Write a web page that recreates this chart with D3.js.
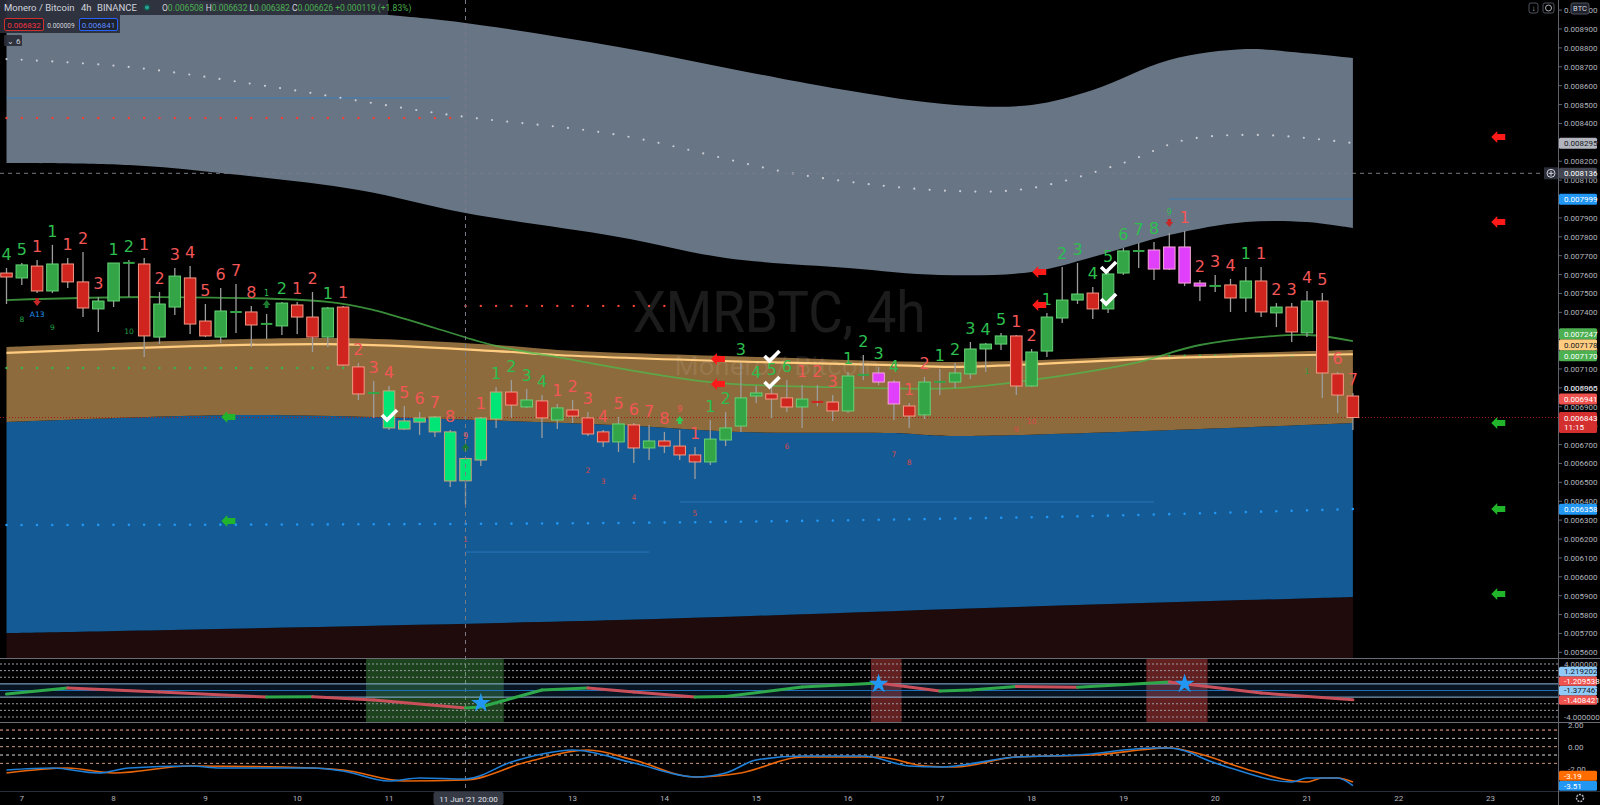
<!DOCTYPE html>
<html>
<head>
<meta charset="utf-8">
<script src="https://cdnjs.cloudflare.com/ajax/libs/d3/7.8.5/d3.min.js"></script>
<style>
  html, body { margin: 0; background: #000; overflow: hidden; }
  svg { display: block; }
</style>
</head>
<body>
<svg id="chart" width="1600" height="805"></svg>
<script>
// XMRBTC 4h candles, first bar = 6 Jun 2021 20:00 UTC, values in µBTC (1e-6)
const opens  = [7608,7582,7645,7513,7656,7561,7418,7460,7661,7656, 7269,7428,7582,7354,7269,7402,7402,7338,7328,7439,
                7375,7269,7428,7111,6973,6984,6782,6819,6846,6767, 6508,6618,6835,6978,6899,6931,6830,6883,6841,6767,
                6714,6804,6682,6719,6692,6645,6608,6724,6798,6957, 6968,6947,6899,6931,6925,6878,7068,7079,7031,6904,
                6857,7031,7031,7074,7206,7232,7275,7010,7195,7370, 7465,7502,7418,7608,7725,7730,7629,7746,7555,7539,
                7545,7476,7566,7397,7428,7291,7460,7074,6957];
const highs  = [7635,7661,7677,7757,7688,7719,7481,7661,7677,7688, 7508,7635,7645,7444,7529,7550,7434,7391,7455,7455,
                7508,7428,7434,7132,7037,7010,6904,6872,6851,6777, 6632,6846,7005,7042,6994,6962,6915,6936,6872,6777,
                6846,6814,6804,6767,6777,6687,6830,6872,7132,7010, 7026,7042,7015,7015,6962,7084,7174,7111,7042,6920,
                7058,7100,7132,7243,7238,7291,7280,7206,7397,7640, 7661,7534,7624,7741,7767,7772,7820,7831,7571,7598,
                7577,7640,7640,7449,7449,7513,7502,7084,6973];
const lows   = [7444,7545,7502,7502,7529,7375,7296,7428,7481,7164, 7232,7386,7285,7269,7238,7291,7217,7259,7280,7285,
                7190,7217,7116,6936,6841,6777,6777,6751,6740,6475, 6382,6587,6788,6841,6894,6735,6782,6814,6745,6687,
                6661,6602,6618,6655,6618,6518,6592,6692,6767,6920, 6841,6872,6788,6904,6825,6867,7042,7015,6830,6788,
                6835,6962,6999,7047,7084,7201,6962,7005,7164,7344, 7444,7365,7397,7598,7635,7571,7624,7539,7460,7508,
                7402,7402,7375,7322,7243,7269,6947,6867,6777];
const closes = [7587,7651,7513,7656,7561,7423,7460,7661,7667,7275, 7444,7592,7338,7275,7407,7407,7333,7344,7449,7375,
                7269,7423,7121,6968,6978,6788,6825,6841,6767,6507, 6626,6841,6978,6909,6936,6841,6894,6851,6756,6714,
                6809,6682,6719,6692,6645,6608,6729,6788,6947,6973, 6941,6899,6941,6931,6878,7063,7074,7031,6915,6851,
                7031,7037,7079,7206,7232,7275,7010,7190,7375,7465, 7497,7418,7603,7725,7730,7629,7746,7555,7539,7545,
                7476,7566,7402,7428,7296,7460,7079,6962,6843];
// candle colour per bar: r red, g green, G lime, m magenta
const candleKind = "rgrgrrgggr" + "ggrrggrggr" + "rgrrgGGGGG" + "GGGrgrgrrr" + "grgrrrgggg" +
                   "rrgrrggmmr" + "ggggggrggg" + "grgggmmmmg" + "rgrgrgrrr";

// sequential counts above the bars and their side (g buy / r sell)
const tdCounts = ["4","5","1","1","1","2","3","1","2","1", "2","3","4","5","6","7","8","1","2","1",
                  "2","1","1","2","3","4","5","6","7","8", "9","1","1","2","3","4","1","2","3","4",
                  "5","6","7","8","9","1","1","2","3","4", "5","6","1","2","3","1","2","3","4","1",
                  "2","1","2","3","4","5","1","2","1","2", "3","4","5","6","7","8","9","1","2","3",
                  "4","1","1","2","3","4","5","6","7"];
const tdSide = "ggrgrrrggr" + "rrrrrrrggr" + "rgrrrrrrrr" + "rrggggrrrr" + "rrrrrrgggg" +
               "ggrrrggggr" + "rgggggrrgg" + "gggggggrrr" + "rgrrrrrrr";
const tdSmall = [17, 30, 44, 76];
// countdown numbers under the bars
const cdBars  = [1, 3, 8, 30, 38, 39, 41, 45, 51, 58, 59, 66, 67, 85];
const cdText  = ["8","9","10","1","2","3","4","5","6","7","8","9","10","1"];
const cdSide  = "gggrrrrrrrrrrg";
const upMarks = [17, 30, 44];
const downMarks = [76];
const downMarksBelow = [2];

// bands and averages, [bar index] -> value
const grayTopBars = [0, 12, 25, 30, 40, 54, 62, 67, 71, 76, 81, 84, 88];
const grayTopVals = [9150, 9053, 8974, 8932, 8805, 8588, 8498, 8498, 8577, 8736, 8794, 8778, 8746];
const grayBotBars = [0, 8, 14, 23, 30, 40, 47, 55, 61, 67, 71, 76, 81, 85, 88];
const grayBotVals = [8191, 8180, 8138, 8048, 7926, 7799, 7688, 7635, 7598, 7614, 7693, 7809, 7878, 7878, 7846];
const midBars = [0, 8, 17, 29, 40, 52, 62, 67, 73, 77, 82, 88];
const midVals = [8741, 8699, 8598, 8445, 8339, 8127, 8042, 8058, 8191, 8312, 8339, 8296];
const brownTopBars = [0, 21, 32, 36, 49, 62, 76, 88];
const brownTopVals = [7216, 7264, 7227, 7201, 7164, 7137, 7174, 7200];
const creamBars = [0, 21, 32, 36, 49, 58, 62, 76, 88];
const creamVals = [7185, 7232, 7195, 7174, 7137, 7121, 7111, 7158, 7178];
const blueTopBars = [0, 15, 24, 29, 40, 48, 58, 62, 88];
const blueTopVals = [6819, 6856, 6846, 6835, 6803, 6766, 6761, 6745, 6814];
const blueBotBars = [0, 40, 66, 88];
const blueBotVals = [5702, 5771, 5840, 5893];
const maBars = [0, 10, 21, 24, 28, 32, 36, 46, 54, 62, 67, 74, 78, 85, 88];
const maVals = [7465, 7481, 7455, 7412, 7317, 7222, 7163, 7031, 7004, 6999, 7042, 7137, 7227, 7280, 7247];
const blueDotBars = [0, 40, 70, 88];
const blueDotVals = [6274, 6285, 6320, 6359];

// horizontal levels [from bar, to bar, value]
const redDots = [[0, 29, 8429], [30, 43, 7434]];
const greenDots = [[0, 22, 7105], [76, 85, 7170]];
const blueLevels = [[0, 29, 8535], [76, 88, 8000], [30, 42, 6131], [44, 75, 6396]];
const lastPrice = 6843;
const crossBar = 30, crossPrice = 8136;

// signal markers [bar, value]
const checks = [[25, 6851], [50, 7164], [50, 7026], [72, 7635], [72, 7465]];
const redArrows = [[46.5, 7153], [46.5, 7021], [67.5, 7614], [67.5, 7439], [97.5, 8328], [97.5, 7878]];
const greenArrows = [[14.5, 6846], [14.5, 6295], [97.5, 6814], [97.5, 6359], [97.5, 5909]];

// oscillator pane
const oscBars = [0, 4, 10, 17, 20, 24, 30, 31, 35, 38, 41, 45, 47, 52, 57, 61, 63, 66, 70, 76, 82, 88];
const oscVals = [-0.53, 0.38, -0.23, -0.98, -0.93, -1.43, -2.64, -2.49, 0.08, 0.38, -0.23, -0.98, -0.9, 0.53, 1.13, -0.08, 0.08, 0.6, 0.5, 1.3, -0.38, -1.41];
const oscStars = [[31, -1.9], [57, 1.0], [77, 1.0]];
const shadeGreen = [[24, 32]];
const shadeRed = [[57, 58], [75, 78]];
const oscTags = [1.219202, -1.209538, -1.377467, -1.408421];

// momentum pane
const momBlueBars = [0, 3, 6, 8, 12, 14, 20, 22, 25, 27, 30, 33, 35, 37, 41, 45, 47, 49, 52, 56, 59, 61, 66, 70, 75, 76, 79, 80, 84, 85, 87, 88];
const momBlueVals = [-2.1, -1.92, -2.37, -1.92, -1.74, -1.92, -1.92, -2.19, -3.09, -2.82, -2.91, -1.38, -0.66, -0.3, -1.47, -2.73, -2.37, -1.2, -0.84, -0.84, -1.74, -1.83, -0.93, -0.75, -0.12, -0.12, -1.47, -1.92, -3.18, -2.82, -2.82, -3.51];
const momOrangeBars = [0, 4, 7, 12, 20, 22, 26, 30, 34, 38, 41, 45, 48, 52, 57, 60, 62, 66, 71, 76, 78, 81, 85, 86, 87, 88];
const momOrangeVals = [-2.37, -1.92, -2.37, -1.74, -1.92, -2.1, -3.09, -3.0, -1.38, -0.3, -1.2, -2.73, -2.37, -0.93, -0.93, -1.74, -1.83, -0.93, -0.75, -0.12, -0.66, -2.0, -3.18, -2.82, -2.82, -3.19];
const momLevels = [1.5, 0.75, 0, -0.75, -1.5];

// right scale tags
const priceTags = [8295, 8136, 7999, 7247, 7178, 7170, 6965, 6941, 6843, 6358];

// ---------------------------------------------------------------
const W = 1600, H = 805, plotR = 1558, mainB = 658, oscB = 722, momB = 791;
const t0 = Date.UTC(2021, 5, 6, 20);
const barTime = i => new Date(t0 + i * 4 * 3600e3);

const x = d3.scaleUtc().domain([barTime(0), barTime(88)]).range([6.5, 1352.9]);
const y = d3.scaleLinear().domain([5570, 9053.5]).range([mainB, 0]);
const yOsc = d3.scaleLinear().domain([-4, 4]).range([717, 664]);
const yMom = d3.scaleLinear().domain([-2, 2]).range([768.9, 724.5]);
const bx = b => x(barTime(b));

const FONT = "Roboto, 'Liberation Sans', sans-serif";
const svg = d3.select('#chart');
svg.append('rect').attr('width', W).attr('height', H).attr('fill', '#000');

const defs = svg.append('defs');
defs.append('clipPath').attr('id', 'clipMain').append('rect').attr('width', plotR).attr('height', mainB);
defs.append('clipPath').attr('id', 'clipOsc').append('rect').attr('y', mainB).attr('width', plotR).attr('height', oscB - mainB);
defs.append('clipPath').attr('id', 'clipMom').append('rect').attr('y', oscB).attr('width', plotR).attr('height', momB - oscB);

const pts = (bars, vals, sy) => bars.map((b, i) => [bx(b), (sy || y)(vals[i])]);
const smooth = d3.line().curve(d3.curveCatmullRom.alpha(0.5));
function band(topPts, botPts) {
    return smooth(topPts) + 'L' + smooth(botPts.slice().reverse()).slice(1) + 'Z';
}

// ---------------- main pane ----------------
const main = svg.append('g').attr('clip-path', 'url(#clipMain)');
const floorPts = [[bx(0), mainB], [bx(88), mainB]];

main.append('path').attr('d', band(pts(blueBotBars, blueBotVals), floorPts)).attr('fill', '#200b0c');
main.append('path').attr('d', band(pts(blueTopBars, blueTopVals), pts(blueBotBars, blueBotVals))).attr('fill', '#145a94');
main.append('path').attr('d', band(pts(brownTopBars, brownTopVals), pts(blueTopBars, blueTopVals))).attr('fill', '#8e6b3c');
main.append('path').attr('d', band(pts(grayTopBars, grayTopVals), pts(grayBotBars, grayBotVals))).attr('fill', '#687585');

// watermark
main.append('text').attr('x', 779).attr('y', 332).attr('text-anchor', 'middle')
    .attr('font-family', FONT).attr('font-size', 58).attr('textLength', 293).attr('lengthAdjust', 'spacingAndGlyphs')
    .attr('fill', 'rgba(255,255,255,0.11)').text('XMRBTC, 4h');
main.append('text').attr('x', 777).attr('y', 375).attr('text-anchor', 'middle')
    .attr('font-family', FONT).attr('font-size', 25).attr('textLength', 205).attr('lengthAdjust', 'spacingAndGlyphs')
    .attr('fill', 'rgba(255,255,255,0.09)').text('Monero / Bitcoin');

// thin level lines
blueLevels.forEach(l => {
    main.append('line').attr('x1', bx(l[0])).attr('x2', bx(l[1])).attr('y1', y(l[2])).attr('y2', y(l[2]))
        .attr('stroke', '#2f7fc8').attr('stroke-width', 1).attr('opacity', 0.8);
});

// dotted lines
function dotted(p, color, w) {
    main.append('path').attr('d', d3.line()(p)).attr('fill', 'none').attr('stroke', color)
        .attr('stroke-width', w || 2.4).attr('stroke-linecap', 'round').attr('stroke-dasharray', '0 15.3');
}
redDots.forEach(l => dotted([[bx(l[0]), y(l[2])], [bx(l[1]), y(l[2])]], '#f44336'));
greenDots.forEach(l => dotted([[bx(l[0]), y(l[2])], [bx(l[1]), y(l[2])]], '#3bb54a'));
main.append('path').attr('d', smooth(pts(blueDotBars, blueDotVals))).attr('fill', 'none').attr('stroke', '#2196f3')
    .attr('stroke-width', 2.6).attr('stroke-linecap', 'round').attr('stroke-dasharray', '0 15.3');
main.append('path').attr('d', smooth(pts(midBars, midVals))).attr('fill', 'none').attr('stroke', '#c9cdd4')
    .attr('stroke-width', 2.2).attr('stroke-linecap', 'round').attr('stroke-dasharray', '0 15.3');

// current price line
main.append('line').attr('x1', 0).attr('x2', plotR).attr('y1', y(lastPrice)).attr('y2', y(lastPrice))
    .attr('stroke', '#a01c1c').attr('stroke-width', 1).attr('stroke-dasharray', '1 2');

// averages
main.append('path').attr('d', smooth(pts(creamBars, creamVals))).attr('fill', 'none')
    .attr('stroke', '#ffcc80').attr('stroke-width', 2.2);
main.append('path').attr('d', smooth(pts(maBars, maVals))).attr('fill', 'none')
    .attr('stroke', '#4cbb4c').attr('stroke-width', 1.8).attr('opacity', 0.75);

// crosshair
svg.append('line').attr('x1', bx(crossBar)).attr('x2', bx(crossBar)).attr('y1', 0).attr('y2', momB)
    .attr('stroke', '#787b86').attr('stroke-dasharray', '4 4').attr('stroke-width', 1);
main.append('line').attr('x1', 0).attr('x2', plotR).attr('y1', y(crossPrice)).attr('y2', y(crossPrice))
    .attr('stroke', '#787b86').attr('stroke-dasharray', '4 4').attr('stroke-width', 1);

// candles
const kindFill = { r: '#d0241e', g: '#34a547', G: '#00e676', m: '#e040fb' };
const kindEdge = { r: '#f29a86', g: '#66d275', G: '#c9a27a', m: '#f5a6d6' };
const bw = 11.5;
const candles = main.append('g');
opens.forEach((o, i) => {
    const cx = bx(i);
    const c = closes[i];
    candles.append('line').attr('x1', cx).attr('x2', cx).attr('y1', y(highs[i])).attr('y2', y(lows[i]))
        .attr('stroke', '#9d9d9d').attr('stroke-width', 1.3);
    const top = y(Math.max(o, c)), bot = y(Math.min(o, c));
    const h = Math.max(bot - top, 2);
    const k = candleKind[i];
    candles.append('rect').attr('x', cx - bw / 2).attr('y', top).attr('width', bw).attr('height', h)
        .attr('fill', kindFill[k]).attr('stroke', kindEdge[k]).attr('stroke-width', h > 3 ? 1 : 0);
});

// sequential counts
const tdColor = { g: '#2dbf4e', r: '#f25656' };
const tdG = main.append('g').attr('font-family', "'DejaVu Sans', sans-serif").attr('text-anchor', 'middle');
tdCounts.forEach((t, i) => {
    if (!t) return;
    const small = tdSmall.includes(i);
    tdG.append('text').attr('x', bx(i)).attr('y', y(highs[i]) - (small ? 18 : 8))
        .attr('font-size', small ? 8 : 16).attr('fill', tdColor[tdSide[i]]).text(t);
});
cdBars.forEach((b, i) => {
    tdG.append('text').attr('x', bx(b)).attr('y', y(lows[b]) + 37).attr('font-size', 7.5)
        .attr('fill', cdSide[i] === 'g' ? '#23a046' : '#d8484c').text(cdText[i]);
});
tdG.append('text').attr('x', bx(2)).attr('y', y(lows[2]) + 24).attr('font-size', 7.5)
    .attr('fill', '#2196f3').text('A13');

// small up / down markers
function smallArrow(cx, cy, dir, color) {
    const s = dir === 'up' ? -1 : 1;
    const p = [[cx - 4, cy - 1 * s], [cx, cy + 4 * s], [cx + 4, cy - 1 * s], [cx + 1.8, cy - 1 * s],
               [cx + 1.8, cy - 4 * s], [cx - 1.8, cy - 4 * s], [cx - 1.8, cy - 1 * s]];
    main.append('path').attr('d', d3.line()(p) + 'Z').attr('fill', color);
}
upMarks.forEach(b => smallArrow(bx(b), y(highs[b]) - 10, 'up', b === 44 ? '#2ecc55' : '#1b7a2e'));
downMarks.forEach(b => smallArrow(bx(b), y(highs[b]) - 10, 'down', '#c62828'));
downMarksBelow.forEach(b => smallArrow(bx(b), y(lows[b]) + 9, 'down', '#c62828'));

// check marks
checks.forEach(c => {
    const cx = bx(c[0]), cy = y(c[1]);
    main.append('path').attr('d', `M${cx - 7},${cy - 1}L${cx - 2},${cy + 4}L${cx + 8},${cy - 6}`)
        .attr('fill', 'none').attr('stroke', '#fff').attr('stroke-width', 3.6);
});

// big left-pointing arrows
function bigArrow(cx, cy, color) {
    const p = [[cx - 7, cy], [cx - 1, cy - 6], [cx - 1, cy - 3], [cx + 7, cy - 3],
               [cx + 7, cy + 3], [cx - 1, cy + 3], [cx - 1, cy + 6]];
    svg.append('path').attr('d', d3.line()(p) + 'Z').attr('fill', color);
}
redArrows.forEach(a => bigArrow(bx(a[0]), y(a[1]), '#ff1a1a'));
greenArrows.forEach(a => bigArrow(bx(a[0]), y(a[1]), '#20b52a'));

// ---------------- oscillator pane ----------------
const osc = svg.append('g').attr('clip-path', 'url(#clipOsc)');
shadeGreen.forEach(s => osc.append('rect').attr('x', bx(s[0] - 0.5)).attr('width', bx(s[1] + 0.5) - bx(s[0] - 0.5))
    .attr('y', mainB).attr('height', oscB - mainB).attr('fill', 'rgba(76,175,80,0.38)'));
shadeRed.forEach(s => osc.append('rect').attr('x', bx(s[0] - 0.5)).attr('width', bx(s[1] + 0.5) - bx(s[0] - 0.5))
    .attr('y', mainB).attr('height', oscB - mainB).attr('fill', 'rgba(220,70,70,0.45)'));
osc.append('rect').attr('x', 0).attr('width', plotR).attr('y', yOsc(1)).attr('height', yOsc(-1) - yOsc(1))
    .attr('fill', 'rgba(30,80,130,0.25)');
[4, 3, 2, -2, -3, -4].forEach(v => osc.append('line').attr('x1', 0).attr('x2', plotR)
    .attr('y1', yOsc(v)).attr('y2', yOsc(v)).attr('stroke', '#9a9ca3').attr('stroke-dasharray', '2 2'));
[1, -1].forEach(v => osc.append('line').attr('x1', 0).attr('x2', plotR)
    .attr('y1', yOsc(v)).attr('y2', yOsc(v)).attr('stroke', '#8fb8dc').attr('stroke-width', 1));
osc.append('line').attr('x1', 0).attr('x2', plotR).attr('y1', yOsc(0)).attr('y2', yOsc(0))
    .attr('stroke', '#1e6fb5').attr('stroke-width', 1);
for (let i = 1; i < oscBars.length; i++) {
    const up = oscVals[i] >= oscVals[i - 1];
    osc.append('line').attr('x1', bx(oscBars[i - 1])).attr('y1', yOsc(oscVals[i - 1]))
        .attr('x2', bx(oscBars[i])).attr('y2', yOsc(oscVals[i]))
        .attr('stroke', up ? '#2ea84a' : '#c9505a').attr('stroke-width', 3).attr('stroke-linecap', 'round');
}
oscStars.forEach(s => osc.append('path').attr('d', d3.symbol(d3.symbolStar).size(120)())
    .attr('transform', `translate(${bx(s[0])},${yOsc(s[1])})`).attr('fill', '#2196f3'));

// ---------------- momentum pane ----------------
const mom = svg.append('g').attr('clip-path', 'url(#clipMom)');
const momLevelColor = ['#ffb09a', '#c8c8c8', '#c99a80', '#dedede', '#c99a80'];
momLevels.forEach((v, i) => mom.append('line').attr('x1', 0).attr('x2', plotR)
    .attr('y1', yMom(v)).attr('y2', yMom(v)).attr('stroke', momLevelColor[i]).attr('stroke-dasharray', '3 3'));
const momLine = d3.line().curve(d3.curveMonotoneX);
mom.append('path').attr('d', momLine(pts(momOrangeBars, momOrangeVals, yMom))).attr('fill', 'none')
    .attr('stroke', '#e8650a').attr('stroke-width', 1.6);
mom.append('path').attr('d', momLine(pts(momBlueBars, momBlueVals, yMom))).attr('fill', 'none')
    .attr('stroke', '#1e7fd8').attr('stroke-width', 1.6);

// ---------------- dividers and axes ----------------
[mainB, oscB].forEach(v => svg.append('line').attr('x1', 0).attr('x2', W).attr('y1', v + 0.5).attr('y2', v + 0.5)
    .attr('stroke', '#6a6d76').attr('stroke-width', 1));
svg.append('line').attr('x1', 0).attr('x2', W).attr('y1', momB + 0.5).attr('y2', momB + 0.5).attr('stroke', '#2a2e39');
svg.append('line').attr('x1', plotR + 0.5).attr('x2', plotR + 0.5).attr('y1', 0).attr('y2', H)
    .attr('stroke', '#60636d').attr('stroke-width', 1);

const axisG = svg.append('g').attr('font-family', FONT).attr('font-size', 8).attr('fill', '#b2b5be');
d3.range(5600, 9001, 100).forEach(v => {
    const yy = y(v);
    if (yy < 4 || yy > mainB - 2) return;
    axisG.append('line').attr('x1', plotR).attr('x2', plotR + 4).attr('y1', yy).attr('y2', yy).attr('stroke', '#60636d');
    axisG.append('text').attr('x', plotR + 6).attr('y', yy + 3).text((v / 1e6).toFixed(6));
});
[[4, '4.000000'], [-4, '-4.000000']].forEach(d => {
    axisG.append('text').attr('x', plotR + 6).attr('y', yOsc(d[0]) + 3).text(d[1]);
});
[[2, '2.00'], [0, '0.00'], [-2, '-2.00']].forEach(d => {
    axisG.append('text').attr('x', plotR + 10).attr('y', yMom(d[0]) + 3).text(d[1]);
});

// time axis
const timeG = svg.append('g').attr('font-family', FONT).attr('font-size', 8).attr('fill', '#b2b5be').attr('text-anchor', 'middle');
d3.utcDay.range(new Date(Date.UTC(2021, 5, 7)), new Date(Date.UTC(2021, 5, 24))).forEach(d => {
    timeG.append('text').attr('x', x(d)).attr('y', 801).text(d3.utcFormat('%-d')(d));
});
timeG.append('rect').attr('x', bx(crossBar) - 32).attr('y', 792).attr('width', 70).attr('height', 13)
    .attr('fill', '#363a45').attr('rx', 2);
timeG.append('text').attr('x', bx(crossBar) + 3).attr('y', 801.5).attr('fill', '#e0e3eb').attr('font-size', 8)
    .text("11 Jun '21   20:00");

// tags on the right scale, pushed upward when they collide
function placeTags(tags) {
    tags.sort((a, b) => b.cy - a.cy);
    tags.forEach((t, i) => {
        t.top = t.cy - t.h0;
        if (i > 0) {
            const prev = tags[i - 1];
            if (t.top + t.h > prev.top) t.top = prev.top - t.h;
        }
    });
    tags.forEach(t => {
        if (t.fill) axisG.append('rect').attr('x', plotR + 1).attr('y', t.top).attr('width', 38).attr('height', t.h)
            .attr('fill', t.fill).attr('rx', 1.5);
        axisG.append('text').attr('x', plotR + 6).attr('y', t.top + t.h0 + 3).attr('fill', t.ink).text(t.label);
        if (t.sub) axisG.append('text').attr('x', plotR + 6).attr('y', t.top + t.h0 + 12).attr('fill', t.ink).text(t.sub);
    });
}
const tagFill = ['#b2b5be', '#434651', '#2196f3', '#4caf50', '#ffcc80', '#4caf50', null, '#ef5350', '#d32f2f', '#2196f3'];
const tagInk = ['#131722', '#fff', '#fff', '#fff', '#131722', '#fff', '#d1d4dc', '#fff', '#fff', '#fff'];
placeTags(priceTags.map((v, i) => ({
    cy: y(v), h0: 5.5, h: v === lastPrice ? 21 : 11, fill: tagFill[i], ink: tagInk[i],
    label: (v / 1e6).toFixed(6), sub: v === lastPrice ? '11:15' : null
})));
const oscFill = ['#90caf9', '#ef5350', '#90caf9', '#ef5350'];
const oscInk = ['#131722', '#fff', '#131722', '#fff'];
placeTags(oscTags.map((v, i) => ({ cy: yOsc(v), h0: 4.7, h: 9.5, fill: oscFill[i], ink: oscInk[i], label: v.toFixed(6) })));
const momEnds = [momOrangeVals[momOrangeVals.length - 1], momBlueVals[momBlueVals.length - 1]];
placeTags(momEnds.map((v, i) => ({ cy: yMom(v), h0: 5, h: 10, fill: i ? '#2196f3' : '#ff6d00', ink: '#fff', label: v.toFixed(2) })));

// crosshair button on the scale
svg.append('rect').attr('x', plotR - 14).attr('y', y(crossPrice) - 6).attr('width', 14).attr('height', 12)
    .attr('fill', '#2a2e39');
svg.append('circle').attr('cx', plotR - 7).attr('cy', y(crossPrice)).attr('r', 4)
    .attr('fill', 'none').attr('stroke', '#d1d4dc').attr('stroke-width', 1);
svg.append('path').attr('d', `M${plotR - 9.5},${y(crossPrice)}h5M${plotR - 7},${y(crossPrice) - 2.5}v5`)
    .attr('stroke', '#d1d4dc').attr('stroke-width', 1);

// top right buttons and gear
svg.append('rect').attr('x', 1529).attr('y', 3).attr('width', 9).attr('height', 10).attr('fill', 'none')
    .attr('stroke', '#50535e').attr('rx', 2);
svg.append('text').attr('x', 1533.5).attr('y', 11).attr('text-anchor', 'middle').attr('font-size', 8)
    .attr('fill', '#b2b5be').attr('font-family', FONT).text('↓');
svg.append('rect').attr('x', 1543).attr('y', 3).attr('width', 11).attr('height', 10).attr('fill', 'none')
    .attr('stroke', '#50535e').attr('rx', 2);
svg.append('circle').attr('cx', 1548.5).attr('cy', 8).attr('r', 3).attr('fill', 'none').attr('stroke', '#b2b5be');
svg.append('rect').attr('x', 1571).attr('y', 3).attr('width', 18).attr('height', 11).attr('fill', '#1e222d')
    .attr('stroke', '#50535e').attr('rx', 2);
svg.append('text').attr('x', 1580).attr('y', 11).attr('text-anchor', 'middle').attr('font-size', 7.5)
    .attr('fill', '#d1d4dc').attr('font-family', FONT).text('BTC');
svg.append('circle').attr('cx', 1580).attr('cy', 798).attr('r', 3.5).attr('fill', 'none')
    .attr('stroke', '#b2b5be').attr('stroke-width', 1.5).attr('stroke-dasharray', '2 1');

// ---------------- legend header ----------------
const hdr = svg.append('g').attr('font-family', FONT).attr('font-size', 9.5);
hdr.append('rect').attr('x', 0).attr('y', 0).attr('width', 388).attr('height', 15).attr('fill', 'rgba(42,46,57,0.92)');
hdr.append('rect').attr('x', 0).attr('y', 15).attr('width', 120).attr('height', 18).attr('fill', 'rgba(42,46,57,0.92)');
hdr.append('rect').attr('x', 4).attr('y', 35).attr('width', 18).attr('height', 11).attr('fill', 'rgba(42,46,57,0.92)').attr('rx', 1);
hdr.append('text').attr('x', 4).attr('y', 11).attr('fill', '#d1d4dc').text('Monero / Bitcoin');
hdr.append('text').attr('x', 81).attr('y', 11).attr('fill', '#d1d4dc').text('4h');
hdr.append('text').attr('x', 97).attr('y', 11).attr('fill', '#d1d4dc').text('BINANCE');
hdr.append('circle').attr('cx', 147).attr('cy', 7.5).attr('r', 3.5).attr('fill', '#1a4d45');
hdr.append('circle').attr('cx', 147).attr('cy', 7.5).attr('r', 2).attr('fill', '#26a69a');

const fmt = v => (v / 1e6).toFixed(6);
const chg = closes[crossBar] - closes[crossBar - 1];
const ohlc = [['O', opens[crossBar]], ['H', highs[crossBar]], ['L', lows[crossBar]], ['C', closes[crossBar]]];
const ohlcText = hdr.append('text').attr('x', 162).attr('y', 11).attr('font-size', 8.5);
ohlc.forEach(d => {
    ohlcText.append('tspan').attr('fill', '#d1d4dc').text(d[0]);
    ohlcText.append('tspan').attr('fill', '#4caf50').text(fmt(d[1]) + ' ');
});
ohlcText.append('tspan').attr('fill', '#4caf50')
    .text(`+${fmt(chg)} (+${(chg / closes[crossBar - 1] * 100).toFixed(2)}%)`);

hdr.append('rect').attr('x', 4.5).attr('y', 18.5).attr('width', 39).attr('height', 12).attr('fill', '#1e222d')
    .attr('stroke', '#d32f2f').attr('rx', 1.5);
hdr.append('text').attr('x', 24).attr('y', 27.5).attr('text-anchor', 'middle').attr('font-size', 8).attr('fill', '#f23645').text('0.006832');
hdr.append('text').attr('x', 61).attr('y', 27.5).attr('text-anchor', 'middle').attr('font-size', 6.5).attr('fill', '#d1d4dc').text('0.000009');
hdr.append('rect').attr('x', 79.5).attr('y', 18.5).attr('width', 38).attr('height', 12).attr('fill', '#1e222d')
    .attr('stroke', '#2962ff').attr('rx', 1.5);
hdr.append('text').attr('x', 98.5).attr('y', 27.5).attr('text-anchor', 'middle').attr('font-size', 8).attr('fill', '#5b8cff').text('0.006841');
hdr.append('text').attr('x', 7).attr('y', 43.5).attr('font-size', 8).attr('fill', '#d1d4dc').text('⌄ 6');
</script>
</body>
</html>
